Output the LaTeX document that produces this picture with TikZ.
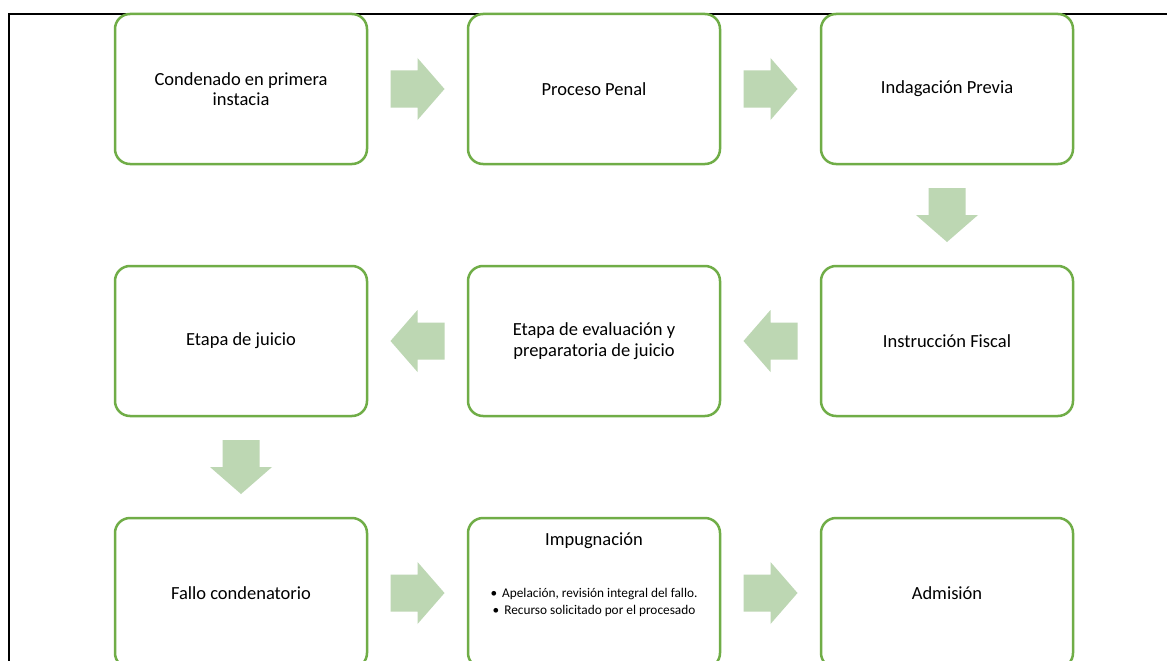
\documentclass[tikz,border=0pt]{standalone}
\usepackage{fontspec}
\setmainfont{Carlito}
\usetikzlibrary{calc}
\definecolor{boxgreen}{HTML}{70AD47}
\definecolor{arrowgreen}{HTML}{BDD7B3}
\tikzset{
  stagebox/.style={draw=boxgreen, line width=2.5pt, rounded corners=15pt, fill=white,
    minimum width=252pt, minimum height=150pt, inner sep=0pt, align=center,
    font=\fontsize{18.5}{20.5}\selectfont},
  blockarrow/.style={fill=arrowgreen, draw=none},
  smalltext/.style={align=center, inner sep=0pt, font=\fontsize{13.3}{17}\selectfont},
  titletext/.style={inner sep=0pt, font=\fontsize{18.5}{21}\selectfont}
}
\newcommand{\blockarrowshape}{(-27,-18.5) -- (0,-18.5) -- (0,-31) -- (27,0) -- (0,31) -- (0,18.5) -- (-27,18.5) -- cycle}
\begin{document}
\begin{tikzpicture}[x=1pt,y=-1pt]
\clip (0,0) rectangle (1167,661);
\fill[white] (0,0) rectangle (1167,661);
\draw[line width=2pt] (9,661) -- (9,14) -- (1167,14);
% boxes
\node[stagebox] (b1) at (241,89) {Condenado en primera\\instacia};
\node[stagebox] (b2) at (594,89) {Proceso Penal};
\node[stagebox] (b3) at (947,89) {Indagación Previa};
\node[stagebox] (b4) at (947,341) {Instrucción Fiscal};
\node[stagebox] (b5) at (594,341) {Etapa de evaluación y\\preparatoria de juicio};
\node[stagebox] (b6) at (241,341) {Etapa de juicio};
\node[stagebox] (b7) at (241,593) {Fallo condenatorio};
\node[stagebox] (b8) at (594,593) {};
\node[stagebox] (b9) at (947,593) {Admisión};
\node[titletext] (b8t) at (594,541) {Impugnación};
\node[smalltext] (b8l) at (594,602) {•\hspace{5pt}Apelación, revisión integral del fallo.\\•\hspace{5pt}Recurso solicitado por el procesado};
% arrows
\coordinate (a12) at ($(b1.east)!0.5!(b2.west)$);
\coordinate (a23) at ($(b2.east)!0.5!(b3.west)$);
\coordinate (a34) at ($(b3.south)!0.5!(b4.north)$);
\coordinate (a45) at ($(b4.west)!0.5!(b5.east)$);
\coordinate (a56) at ($(b5.west)!0.5!(b6.east)$);
\coordinate (a67) at ($(b6.south)!0.5!(b7.north)$);
\coordinate (a78) at ($(b7.east)!0.5!(b8.west)$);
\coordinate (a89) at ($(b8.east)!0.5!(b9.west)$);
\fill[blockarrow, shift={(a12)}] \blockarrowshape;
\fill[blockarrow, shift={(a23)}] \blockarrowshape;
\fill[blockarrow, shift={(a34)}, rotate=-90] \blockarrowshape;
\fill[blockarrow, shift={(a45)}, rotate=180] \blockarrowshape;
\fill[blockarrow, shift={(a56)}, rotate=180] \blockarrowshape;
\fill[blockarrow, shift={(a67)}, rotate=-90] \blockarrowshape;
\fill[blockarrow, shift={(a78)}] \blockarrowshape;
\fill[blockarrow, shift={(a89)}] \blockarrowshape;
\end{tikzpicture}
\end{document}
